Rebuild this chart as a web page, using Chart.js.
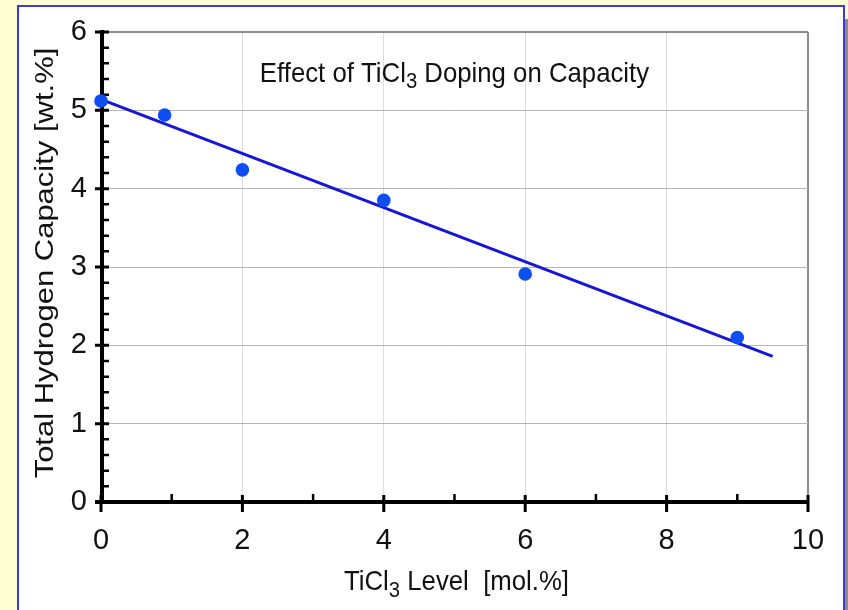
<!DOCTYPE html>
<html>
<head>
<meta charset="utf-8">
<script src="https://cdn.jsdelivr.net/npm/chart.js@4"></script>
<style>
  html, body { margin: 0; padding: 0; }
  body { width: 848px; height: 610px; background: #fffdd2; position: relative; overflow: hidden; }
  #panel { position: absolute; left: 17px; top: 5px; width: 824px; height: 640px; background: #ffffff;
           border: 2px solid #3b3bdc; box-shadow: 3px 14px 0 #8c8c8c; }
  #c { position: absolute; left: 0; top: 0; }
</style>
</head>
<body>
<div id="panel"></div>
<canvas id="c" width="848" height="610"></canvas>
<script>
// ---- data ----
const dopingLevel = [0, 0.9, 2, 4, 6, 9];            // TiCl3 level [mol.%]
const capacity    = [5.12, 4.94, 4.24, 3.85, 2.91, 2.10]; // total H capacity [wt.%]
const fitX = [0, 9.5];
const fitY = [5.14, 1.86];
const xTicks = [0, 2, 4, 6, 8, 10];
const yTicks = [0, 1, 2, 3, 4, 5, 6];
const titleParts  = ["Effect of TiCl", "3", " Doping on Capacity"];
const xTitleParts = ["TiCl", "3", " Level  [mol.%]"];
const yTitle = "Total Hydrogen Capacity [wt.%]";

const FONT = "'Liberation Sans', Arial, Helvetica, sans-serif";

function drawSubText(ctx, parts, cx, by, size, subSize, subDrop, sx) {
  ctx.save();
  ctx.translate(cx, by);
  ctx.scale(sx, 1);
  ctx.fillStyle = '#111';
  ctx.textBaseline = 'alphabetic';
  ctx.textAlign = 'left';
  const fonts = parts.map((p, i) => (i % 2 === 1 ? subSize : size) + 'px ' + FONT);
  let total = 0;
  const widths = parts.map((p, i) => { ctx.font = fonts[i]; const w = ctx.measureText(p).width; total += w; return w; });
  let x = -total / 2;
  parts.forEach((p, i) => {
    ctx.font = fonts[i];
    ctx.fillText(p, x, i % 2 === 1 ? subDrop : 0);
    x += widths[i];
  });
  ctx.restore();
}

const axesPlugin = {
  id: 'axesPlugin',
  beforeDatasetsDraw(chart) {
    const ctx = chart.ctx;
    const xs = chart.scales.x, ys = chart.scales.y;
    const x0 = xs.getPixelForValue(0) + 1;
    const y0 = ys.getPixelForValue(0);
    const yTop = ys.getPixelForValue(ys.max);
    const xEnd = xs.getPixelForValue(xs.max);
    ctx.save();
    ctx.strokeStyle = '#000';
    ctx.lineCap = 'butt';
    // axis lines
    ctx.lineWidth = 4;
    ctx.beginPath();
    ctx.moveTo(x0, yTop - 2); ctx.lineTo(x0, y0 + 2);
    ctx.moveTo(x0 - 7, y0); ctx.lineTo(xEnd + 1, y0);
    ctx.stroke();
    // y major ticks
    ctx.lineWidth = 3;
    ctx.beginPath();
    yTicks.forEach(v => { const y = ys.getPixelForValue(v); ctx.moveTo(x0 - 7, y); ctx.lineTo(x0 + 7, y); });
    // x major ticks
    xTicks.forEach(v => { const x = xs.getPixelForValue(v); ctx.moveTo(x, y0 - 7); ctx.lineTo(x, y0 + 10); });
    ctx.stroke();
    // minor ticks
    ctx.lineWidth = 2.5;
    ctx.beginPath();
    for (let k = 0; k < yTicks.length - 1; k++) {
      for (let m = 1; m < 5; m++) {
        const y = ys.getPixelForValue(yTicks[k] + m * (yTicks[k + 1] - yTicks[k]) / 5);
        ctx.moveTo(x0, y); ctx.lineTo(x0 + 7, y);
      }
    }
    for (let k = 0; k < xTicks.length - 1; k++) {
      const x = xs.getPixelForValue((xTicks[k] + xTicks[k + 1]) / 2);
      ctx.moveTo(x, y0 - 8); ctx.lineTo(x, y0);
    }
    ctx.stroke();
    ctx.restore();
  },
  afterDraw(chart) {
    const ctx = chart.ctx;
    const ca = chart.chartArea;
    const cx = (ca.left + ca.right) / 2;
    drawSubText(ctx, titleParts, cx, 82, 28, 22, 6, 0.92);
    drawSubText(ctx, xTitleParts, cx + 2, 590, 28, 22, 7, 0.92);
    // rotated y title
    ctx.save();
    ctx.translate(53, (ca.top + ca.bottom) / 2 - 4);
    ctx.scale(0.82, 1);
    ctx.rotate(-Math.PI / 2);
    ctx.font = '31px ' + FONT;
    ctx.fillStyle = '#111';
    ctx.textAlign = 'center';
    ctx.textBaseline = 'alphabetic';
    ctx.fillText(yTitle, 0, 0);
    ctx.restore();
  }
};

new Chart(document.getElementById('c'), {
  type: 'scatter',
  data: {
    datasets: [
      {
        label: 'Measured',
        data: dopingLevel.map((x, i) => ({ x: x, y: capacity[i] })),
        pointRadius: 6.8,
        pointHoverRadius: 6.8,
        pointBackgroundColor: '#0d4ff2',
        pointBorderColor: '#0d4ff2',
        pointBorderWidth: 0,
        showLine: false,
        clip: false
      },
      {
        label: 'Fit',
        data: fitX.map((x, i) => ({ x: x, y: fitY[i] })),
        showLine: true,
        borderColor: '#1616d6',
        borderWidth: 3,
        pointRadius: 0,
        fill: false,
        clip: false
      }
    ]
  },
  options: {
    responsive: false,
    animation: false,
    events: [],
    layout: { padding: { left: 0, top: 32, right: 40, bottom: 0 } },
    plugins: { legend: { display: false }, tooltip: { enabled: false }, title: { display: false } },
    scales: {
      x: {
        type: 'linear', min: 0, max: 10,
        afterFit(s) { s.height = 108; },
        afterBuildTicks(s) { s.ticks = xTicks.map(v => ({ value: v })); },
        border: { display: false },
        grid: {
          drawTicks: false,
          color: c => (c.tick && c.tick.value === 10 ? '#8c8c8c' : '#dcdcdc'),
          lineWidth: c => (c.tick && c.tick.value === 10 ? 2 : 1)
        },
        ticks: { padding: 22, color: '#111', font: { family: FONT, size: 29 }, maxRotation: 0 }
      },
      y: {
        type: 'linear', min: 0, max: 6,
        afterFit(s) { s.width = 101; },
        afterBuildTicks(s) { s.ticks = yTicks.map(v => ({ value: v })); },
        border: { display: false },
        grid: {
          drawTicks: false,
          color: c => (c.tick && c.tick.value === 6 ? '#8c8c8c' : '#b4b4b4'),
          lineWidth: c => (c.tick && c.tick.value === 6 ? 2 : 1)
        },
        ticks: { padding: 14, color: '#111', font: { family: FONT, size: 29 } }
      }
    }
  },
  plugins: [axesPlugin]
});
</script>
</body>
</html>
